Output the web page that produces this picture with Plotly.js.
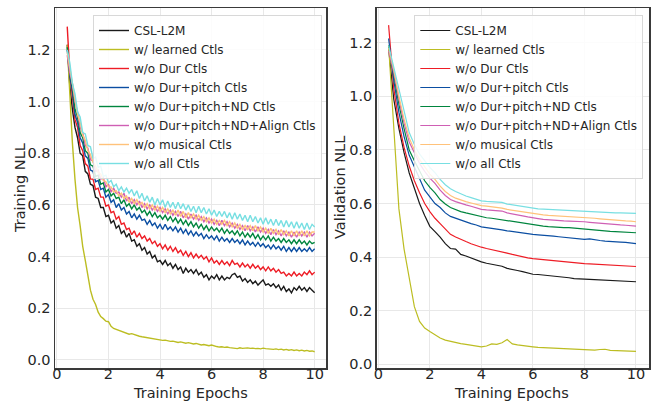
<!DOCTYPE html>
<html><head><meta charset="utf-8">
<script src="https://cdn.plot.ly/plotly-3.0.1.min.js"></script>
<style>html,body{margin:0;padding:0;background:#fff}#chart{width:657px;height:403px}</style>
</head><body><div id="chart"></div>
<script>
const seriesNames = ['CSL-L2M','w/ learned Ctls','w/o Dur Ctls','w/o Dur+pitch Ctls','w/o Dur+pitch+ND Ctls','w/o Dur+pitch+ND+Align Ctls','w/o musical Ctls','w/o all Ctls'];
const seriesColors = ['#1a1a1a','#bcbd22','#ee1c25','#0b4ea2','#00853e','#cf5fb4','#ffc27a','#78dfe2'];
const xTicks = [0,2,4,6,8,10];
const yTicks = [0.0,0.2,0.4,0.6,0.8,1.0,1.2];
const xTitle = 'Training Epochs';
const yTitles = ['Training NLL','Validation NLL'];

// Training epochs: 0.4 .. 10.0 step 0.1 ; validation epochs: 0.4 .. 10.0 step 0.2
const trainEpochs = Array.from({length:97},(_, i)=> +(0.4+0.1*i).toFixed(2));
const valEpochs = Array.from({length:49},(_, i)=> +(0.4+0.2*i).toFixed(2));

const trainCSL = [1.22,1.06,0.97,0.90,0.86,0.80,0.79,0.73,0.72,0.68,
0.675,0.63,0.625,0.59,0.59,0.555,0.56,0.53,0.54,0.51,
0.52,0.49,0.50,0.475,0.49,0.46,0.465,0.44,0.45,0.425,
0.435,0.41,0.42,0.395,0.405,0.38,0.385,0.37,0.385,0.365,
0.375,0.355,0.37,0.35,0.36,0.335,0.355,0.34,0.35,0.335,
0.35,0.33,0.34,0.32,0.33,0.31,0.325,0.315,0.33,0.31,
0.325,0.31,0.32,0.315,0.33,0.335,0.32,0.325,0.305,0.315,
0.30,0.31,0.295,0.305,0.29,0.30,0.31,0.29,0.295,0.285,
0.295,0.28,0.29,0.27,0.285,0.265,0.275,0.26,0.28,0.27,
0.285,0.27,0.28,0.265,0.28,0.27,0.26];
const trainLearned = [1.22,1.0,0.84,0.70,0.59,0.52,0.44,0.385,0.32,0.27,
0.235,0.215,0.185,0.168,0.16,0.15,0.148,0.13,0.122,0.118,
0.115,0.11,0.108,0.104,0.10,0.102,0.098,0.095,0.092,0.09,
0.088,0.086,0.085,0.082,0.08,0.08,0.078,0.076,0.077,0.074,
0.072,0.073,0.07,0.068,0.07,0.066,0.065,0.067,0.063,0.062,
0.064,0.06,0.058,0.06,0.057,0.055,0.058,0.054,0.052,0.05,
0.051,0.049,0.05,0.048,0.047,0.046,0.044,0.047,0.045,0.046,
0.047,0.045,0.046,0.044,0.045,0.043,0.046,0.044,0.042,0.043,
0.041,0.043,0.04,0.042,0.039,0.041,0.038,0.04,0.037,0.039,
0.036,0.038,0.035,0.037,0.034,0.035,0.032];
const trainNoDur = [1.29,1.11,1.02,0.93,0.90,0.83,0.81,0.76,0.75,0.70,
0.70,0.66,0.665,0.63,0.63,0.595,0.60,0.57,0.575,0.545,
0.555,0.525,0.53,0.505,0.51,0.485,0.50,0.475,0.49,0.47,
0.48,0.46,0.47,0.45,0.46,0.44,0.45,0.43,0.445,0.425,
0.44,0.42,0.435,0.415,0.425,0.405,0.42,0.40,0.415,0.395,
0.41,0.395,0.405,0.39,0.40,0.38,0.395,0.375,0.385,0.37,
0.385,0.37,0.38,0.365,0.385,0.37,0.375,0.36,0.375,0.36,
0.37,0.355,0.37,0.355,0.365,0.35,0.36,0.345,0.36,0.345,
0.355,0.34,0.35,0.335,0.34,0.325,0.335,0.325,0.34,0.325,
0.335,0.325,0.34,0.33,0.345,0.33,0.34];
const trainNoPitch = [1.20,1.10,1.04,0.95,0.92,0.86,0.84,0.79,0.78,0.735,
0.73,0.69,0.695,0.66,0.665,0.63,0.64,0.61,0.62,0.59,
0.605,0.58,0.59,0.565,0.575,0.55,0.565,0.545,0.56,0.54,
0.545,0.525,0.54,0.52,0.53,0.51,0.525,0.505,0.525,0.505,
0.515,0.50,0.515,0.495,0.51,0.49,0.505,0.485,0.50,0.48,
0.495,0.48,0.49,0.47,0.485,0.47,0.48,0.465,0.48,0.46,
0.475,0.46,0.47,0.455,0.47,0.455,0.465,0.45,0.465,0.445,
0.46,0.445,0.455,0.44,0.455,0.44,0.45,0.435,0.445,0.43,
0.445,0.43,0.44,0.425,0.44,0.42,0.435,0.42,0.435,0.42,
0.435,0.42,0.43,0.42,0.435,0.42,0.43];
const trainNoND = [1.21,1.11,1.06,0.97,0.94,0.88,0.86,0.81,0.80,0.755,
0.75,0.71,0.715,0.68,0.685,0.65,0.66,0.635,0.645,0.625,
0.63,0.605,0.62,0.595,0.605,0.585,0.60,0.58,0.59,0.57,
0.58,0.56,0.575,0.555,0.57,0.55,0.56,0.545,0.56,0.54,
0.555,0.535,0.55,0.53,0.545,0.525,0.54,0.52,0.535,0.515,
0.53,0.51,0.525,0.505,0.52,0.50,0.515,0.50,0.51,0.495,
0.51,0.49,0.505,0.49,0.50,0.485,0.50,0.48,0.495,0.475,
0.49,0.475,0.49,0.47,0.485,0.465,0.48,0.465,0.48,0.46,
0.475,0.46,0.47,0.455,0.47,0.455,0.465,0.45,0.465,0.45,
0.465,0.45,0.46,0.445,0.46,0.45,0.455];
const trainNoAlign = [1.18,1.11,1.07,1.0,0.96,0.90,0.88,0.83,0.82,0.775,
0.77,0.73,0.735,0.70,0.705,0.67,0.68,0.65,0.665,0.645,
0.65,0.63,0.645,0.615,0.63,0.605,0.62,0.60,0.615,0.59,
0.605,0.585,0.60,0.58,0.595,0.575,0.59,0.57,0.585,0.565,
0.58,0.56,0.575,0.555,0.575,0.55,0.565,0.545,0.565,0.545,
0.56,0.54,0.555,0.535,0.55,0.53,0.545,0.525,0.54,0.52,
0.54,0.52,0.535,0.515,0.53,0.51,0.525,0.505,0.52,0.50,
0.52,0.50,0.515,0.495,0.515,0.495,0.51,0.49,0.505,0.485,
0.505,0.485,0.50,0.48,0.50,0.48,0.495,0.475,0.495,0.475,
0.495,0.48,0.495,0.475,0.495,0.48,0.49];
const trainNoMusical = [1.19,1.13,1.06,1.01,0.95,0.92,0.87,0.85,0.81,0.795,
0.765,0.75,0.725,0.72,0.695,0.69,0.67,0.67,0.65,0.655,
0.635,0.645,0.625,0.635,0.61,0.625,0.605,0.62,0.60,0.61,
0.59,0.605,0.585,0.60,0.58,0.595,0.575,0.59,0.57,0.585,
0.565,0.58,0.56,0.58,0.555,0.575,0.55,0.57,0.55,0.565,
0.545,0.56,0.54,0.555,0.535,0.55,0.53,0.545,0.525,0.54,
0.525,0.54,0.52,0.535,0.515,0.53,0.51,0.525,0.505,0.52,
0.505,0.52,0.50,0.52,0.50,0.515,0.495,0.51,0.49,0.51,
0.49,0.505,0.485,0.505,0.485,0.50,0.48,0.50,0.48,0.50,
0.48,0.50,0.48,0.50,0.48,0.495,0.495];
const trainNoAll = [1.20,1.15,1.07,1.03,0.96,0.94,0.88,0.875,0.83,0.825,
0.78,0.785,0.745,0.75,0.71,0.715,0.685,0.695,0.67,0.68,
0.655,0.67,0.65,0.665,0.645,0.66,0.635,0.655,0.625,0.645,
0.615,0.635,0.61,0.63,0.60,0.625,0.60,0.62,0.59,0.615,
0.59,0.61,0.585,0.61,0.585,0.605,0.58,0.60,0.575,0.595,
0.57,0.595,0.57,0.59,0.565,0.585,0.56,0.58,0.555,0.575,
0.555,0.575,0.55,0.57,0.545,0.57,0.545,0.565,0.54,0.56,
0.535,0.56,0.535,0.555,0.53,0.55,0.525,0.55,0.525,0.545,
0.52,0.545,0.52,0.54,0.515,0.54,0.515,0.535,0.51,0.535,
0.51,0.53,0.505,0.53,0.505,0.525,0.515];

const valCSL = [1.18,0.99,0.88,0.79,0.714,
0.66,0.60,0.555,0.515,0.495,
0.475,0.45,0.432,0.43,0.41,
0.404,0.396,0.388,0.382,0.377,
0.373,0.370,0.366,0.358,0.355,
0.350,0.346,0.340,0.336,0.335,
0.333,0.333,0.330,0.328,0.326,
0.323,0.320,0.320,0.318,0.317,
0.316,0.315,0.313,0.313,0.313,
0.312,0.311,0.310,0.308];
const valLearned = [1.19,0.88,0.58,0.43,0.315,
0.215,0.16,0.135,0.122,0.11,
0.098,0.09,0.085,0.081,0.077,
0.074,0.071,0.068,0.065,0.068,
0.076,0.074,0.08,0.092,0.076,
0.072,0.069,0.066,0.065,0.063,
0.062,0.060,0.059,0.058,0.058,
0.057,0.056,0.056,0.054,0.054,
0.053,0.055,0.056,0.052,0.051,
0.050,0.050,0.049,0.048];
const valNoDur = [1.266,1.03,0.90,0.81,0.74,
0.685,0.64,0.60,0.57,0.545,
0.525,0.505,0.485,0.475,0.465,
0.458,0.450,0.443,0.437,0.432,
0.428,0.425,0.420,0.415,0.410,
0.405,0.400,0.397,0.394,0.392,
0.390,0.388,0.386,0.384,0.382,
0.380,0.378,0.377,0.376,0.375,
0.374,0.373,0.372,0.371,0.370,
0.369,0.368,0.367,0.365];
const valNoPitch = [1.216,1.06,0.94,0.85,0.78,
0.735,0.69,0.65,0.625,0.60,
0.585,0.565,0.552,0.545,0.538,
0.532,0.525,0.52,0.513,0.510,
0.508,0.505,0.502,0.498,0.495,
0.493,0.490,0.487,0.485,0.483,
0.482,0.480,0.478,0.476,0.474,
0.472,0.470,0.468,0.466,0.468,
0.464,0.462,0.460,0.458,0.457,
0.456,0.455,0.453,0.450];
const valNoND = [1.19,1.08,0.97,0.88,0.80,
0.76,0.72,0.685,0.66,0.64,
0.615,0.598,0.585,0.577,0.57,
0.565,0.56,0.555,0.55,0.547,
0.545,0.542,0.54,0.536,0.533,
0.530,0.527,0.523,0.520,0.518,
0.516,0.514,0.512,0.512,0.510,
0.510,0.508,0.507,0.506,0.504,
0.502,0.500,0.498,0.496,0.495,
0.494,0.493,0.492,0.491];
const valNoAlign = [1.17,1.09,0.99,0.90,0.83,
0.79,0.75,0.72,0.695,0.675,
0.65,0.63,0.615,0.607,0.60,
0.595,0.59,0.585,0.578,0.576,
0.575,0.574,0.572,0.565,0.562,
0.558,0.554,0.550,0.546,0.544,
0.541,0.539,0.537,0.536,0.535,
0.534,0.534,0.533,0.532,0.530,
0.528,0.526,0.524,0.522,0.521,
0.520,0.519,0.518,0.516];
const valNoMusical = [1.18,1.10,1.0,0.915,0.845,
0.80,0.765,0.735,0.71,0.69,
0.665,0.645,0.63,0.62,0.612,
0.607,0.602,0.597,0.592,0.590,
0.588,0.586,0.583,0.578,0.575,
0.572,0.568,0.565,0.562,0.560,
0.558,0.556,0.555,0.554,0.553,
0.552,0.551,0.550,0.549,0.547,
0.545,0.543,0.541,0.539,0.537,
0.536,0.535,0.534,0.532];
const valNoAll = [1.19,1.11,1.02,0.94,0.865,
0.82,0.785,0.76,0.735,0.715,
0.69,0.67,0.655,0.645,0.635,
0.628,0.622,0.616,0.610,0.608,
0.607,0.606,0.604,0.598,0.595,
0.592,0.588,0.585,0.582,0.580,
0.579,0.578,0.577,0.575,0.574,
0.573,0.572,0.571,0.569,0.568,
0.567,0.567,0.566,0.566,0.565,
0.565,0.564,0.564,0.563];

const trainSeries = [trainCSL,trainLearned,trainNoDur,trainNoPitch,trainNoND,trainNoAlign,trainNoMusical,trainNoAll];
const valSeries = [valCSL,valLearned,valNoDur,valNoPitch,valNoND,valNoAlign,valNoMusical,valNoAll];

const traces = [];
trainSeries.forEach((ys,i)=>traces.push({type:'scatter',mode:'lines',x:trainEpochs,y:ys,name:seriesNames[i],
  xaxis:'x',yaxis:'y',legend:'legend',line:{color:seriesColors[i],width:1.4}}));
valSeries.forEach((ys,i)=>traces.push({type:'scatter',mode:'lines',x:valEpochs,y:ys,name:seriesNames[i],
  xaxis:'x2',yaxis:'y2',legend:'legend2',line:{color:seriesColors[i],width:1.2}}));
// empty helper traces so the label-only overlay axes get drawn
traces.push({type:'scatter',mode:'lines',x:[],y:[],xaxis:'x3',yaxis:'y',showlegend:false,hoverinfo:'skip'});
traces.push({type:'scatter',mode:'lines',x:[],y:[],xaxis:'x4',yaxis:'y2',showlegend:false,hoverinfo:'skip'});

const font = {family:'DejaVu Sans, sans-serif', color:'#262626'};
const tickFont = {size:14.5, color:'#262626'};
function xAx(domain, range, anchor){
  return {domain, range, anchor, tickvals:xTicks, showgrid:true, gridcolor:'#e8e8e8', gridwidth:1,
    zeroline:false, showline:true, mirror:true, linecolor:'#3a3a3a', linewidth:1.5, ticks:'',
    showticklabels:false};
}
function xLab(domain, range, over){
  return {domain, range, overlaying:over, anchor:'free', position:(403-363)/403, tickvals:xTicks,
    showgrid:false, zeroline:false, showline:false, ticks:'', tickfont:tickFont};
}
function yAx(domain, range, anchor){
  return {domain, range, anchor, tickvals:yTicks, tickformat:'.1f', showgrid:true, gridcolor:'#e8e8e8', gridwidth:1,
    zeroline:false, showline:true, mirror:true, linecolor:'#3a3a3a', linewidth:1.5, ticks:'',
    tickfont:tickFont};
}
const legendBase = {xanchor:'left', yanchor:'top', bgcolor:'rgba(255,255,255,0.85)', bordercolor:'#d8d8d8', borderwidth:1,
  font:{size:12, color:'#262626'}};
const titleFont = {size:14.5, color:'#262626'};
const xdomL = [55/657, 326/657], xdomR = [376.7/657, 649/657];
const rangeL = [-0.075, 10.44], rangeR = [-0.062, 10.505];
const layout = {
  width:657, height:403, margin:{l:0,r:0,t:0,b:0}, paper_bgcolor:'#fff', plot_bgcolor:'#fff', font,
  showlegend:true,
  xaxis: xAx(xdomL, rangeL, 'y'),
  yaxis: yAx([35/403, 395/403], [-0.031, 1.362], 'x'),
  xaxis2: xAx(xdomR, rangeR, 'y2'),
  yaxis2: yAx([35/403, 395/403], [-0.014, 1.33], 'x2'),
  xaxis3: xLab(xdomL, rangeL, 'x'),
  xaxis4: xLab(xdomR, rangeR, 'x2'),
  legend: Object.assign({x:93/657, y:388/403}, legendBase),
  legend2: Object.assign({x:414.3/657, y:388/403}, legendBase),
  annotations: [
    {text:xTitle, xref:'paper', yref:'paper', x:190.5/657, y:(403-392.5)/403, showarrow:false, font:titleFont, xanchor:'center', yanchor:'middle'},
    {text:xTitle, xref:'paper', yref:'paper', x:511/657, y:(403-392.5)/403, showarrow:false, font:titleFont, xanchor:'center', yanchor:'middle'},
    {text:yTitles[0], xref:'paper', yref:'paper', x:20/657, y:(403-188)/403, showarrow:false, font:titleFont, textangle:-90, xanchor:'center', yanchor:'middle'},
    {text:yTitles[1], xref:'paper', yref:'paper', x:340/657, y:(403-188)/403, showarrow:false, font:titleFont, textangle:-90, xanchor:'center', yanchor:'middle'}
  ]
};
Plotly.newPlot('chart', traces, layout, {staticPlot:true, displayModeBar:false});
</script></body></html>
